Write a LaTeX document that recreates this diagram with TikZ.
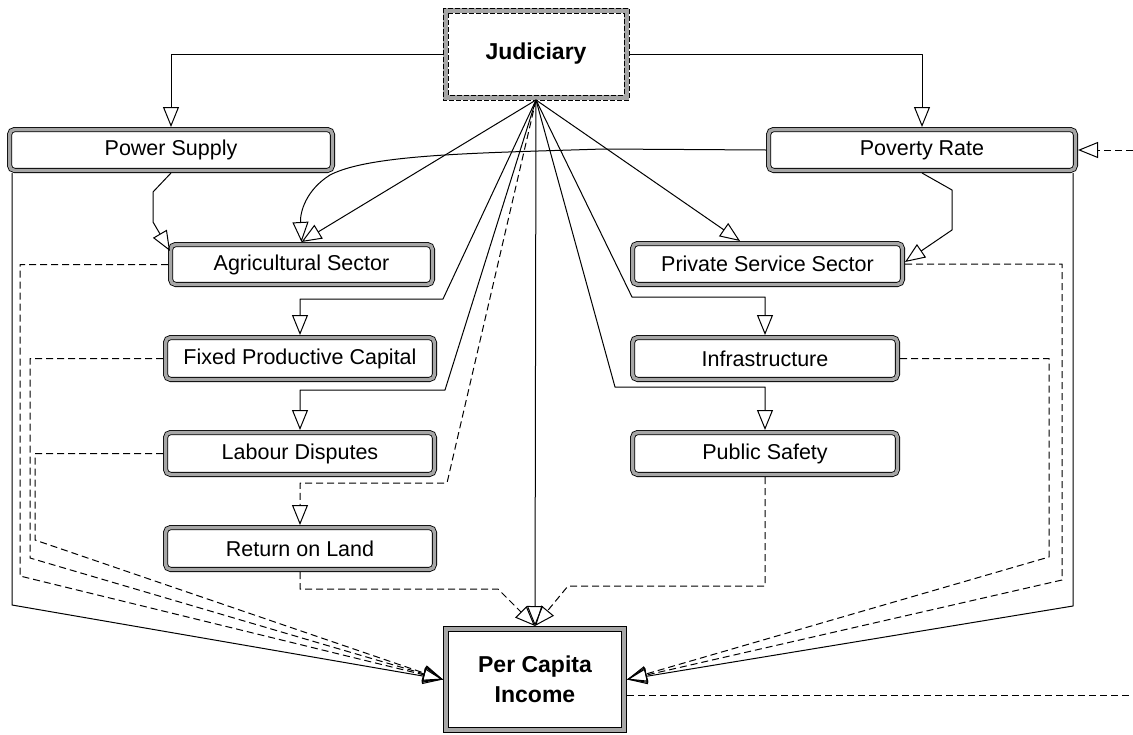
\documentclass[tikz,border=0pt]{standalone}
\usepackage{fontspec}
\setmainfont{Liberation Sans}
\usetikzlibrary{arrows.meta,calc}
\begin{document}
\begin{tikzpicture}[x=1pt,y=-1pt,
  box/.style={rectangle, rounded corners=5pt, draw=black, double=gray!70, double distance=3.4pt,
    line width=0.85pt, fill=white, inner sep=0pt, outer sep=2.55pt,
    font=\fontsize{21.5}{25}\selectfont, text=black},
  jud/.style={rectangle, draw=gray!70, line width=5pt, fill=white, inner sep=0pt, outer sep=2.5pt,
    minimum width=181pt, minimum height=87pt, font=\bfseries\fontsize{23}{28}\selectfont},
  pci/.style={rectangle, draw=black, double=gray!70, double distance=4pt, line width=0.85pt,
    fill=white, inner sep=0pt, outer sep=2.85pt, minimum width=178.3pt, minimum height=101.3pt,
    align=center, font=\bfseries\fontsize{23}{30}\selectfont},
  arr/.style={-{Triangle[open,length=20pt,width=16pt]}, line width=1pt, line join=round},
  con/.style={line width=1pt, line join=round},
  dsh/.style={dash pattern=on 7pt off 4pt}
]
\useasboundingbox (0,0) rectangle (1133,734);

% nodes
\node[jud] (J) at (536,54) {Judiciary};
\draw[line width=0.85pt, dash pattern=on 5pt off 2pt] (J.north west) rectangle (J.south east);
\draw[line width=0.85pt, dash pattern=on 5pt off 2pt] ([shift={(5pt,-5pt)}]J.north west) rectangle ([shift={(-5pt,5pt)}]J.south east);

\node[box, minimum width=322.9pt, minimum height=40.9pt] (PS) at (171,150) {Power Supply};
\node[box, minimum width=306.9pt, minimum height=40.9pt] (PR) at (922,150) {Poverty Rate};
\node[box, minimum width=261.9pt, minimum height=39.9pt] (AS) at (301.5,264.5) {Agricultural Sector};
\node[box, minimum width=269.9pt, minimum height=40.9pt] (PSS) at (767.5,264) {Private Service Sector};
\node[box, minimum width=268.9pt, minimum height=41.9pt] (FPC) at (300,358.5) {Fixed Productive Capital};
\node[box, minimum width=264.9pt, minimum height=41.9pt] (INF) at (765,358.5) {Infrastructure};
\node[box, minimum width=268.9pt, minimum height=41.9pt] (LD) at (300,453.5) {Labour Disputes};
\node[box, minimum width=264.9pt, minimum height=41.9pt] (PSF) at (765,453.5) {Public Safety};
\node[box, minimum width=268.9pt, minimum height=41.9pt] (RL) at (300,548.5) {Return on Land};
\node[pci] (PCI) at (535,679.5) {Per Capita\\Income};

\coordinate (inR) at (1133,150);
\coordinate (outR) at (1133,695);

% Judiciary edges
\draw[arr] (J.west) -| (PS.north);
\draw[arr] (J.east) -| (PR.north);
\draw[arr] (J.south) -- (AS.north);
\draw[arr] (J.south) -- ([xshift=-27.5pt]PSS.north);
\draw[arr] (J.south) -- (443,299) -| (FPC.north);
\draw[arr] (J.south) -- (445,390) -| (LD.north);
\draw[arr,dsh] (J.south) -- (447,483) -| (RL.north);
\draw[arr] (J.south) -- (632,297) -| (INF.north);
\draw[arr] (J.south) -- (615,387) -| (PSF.north);
\draw[arr] (J.south) -- (PCI.north);

% Power Supply / Poverty Rate to sectors
\draw[arr] (PS.south) -- (153,192) -- (153,222) -- ([shift={(2pt,-9pt)}]AS.north west);
\draw[arr] (PR.west) -- (603,149) .. controls (480,153) and (370,154) .. (330,175)
  .. controls (306,190) and (300,212) .. (AS.north);
\draw[arr] (PR.south) -- (952,190) -- (952,230) -- ([yshift=2pt]PSS.east);

% feedback loop ends
\draw[arr,dsh] (inR) -- (PR.east);
\draw[con,dsh] ([yshift=-15.5pt]PCI.east) -- (outR);

% left side into Per Capita Income
\draw[arr] ([xshift=5pt]PS.south west) -- (12,605) -- (PCI.west);
\draw[arr,dsh] (AS.west) -| (20,576) -- (PCI.west);
\draw[arr,dsh] (FPC.west) -| (30,558) -- (PCI.west);
\draw[arr,dsh] (LD.west) -| (35,540) -- (PCI.west);

% right side into Per Capita Income
\draw[arr] ([xshift=-5pt]PR.south east) -- (1073,606) -- (PCI.east);
\draw[arr,dsh] (PSS.east) -| (1062,580) -- (PCI.east);
\draw[arr,dsh] (INF.east) -| (1049,557) -- (PCI.east);

% top into Per Capita Income
\draw[arr,dsh] (RL.south) |- (498,589) -- (PCI.north);
\draw[arr,dsh] (PSF.south) |- (568,586) -- (PCI.north);
\end{tikzpicture}
\end{document}
